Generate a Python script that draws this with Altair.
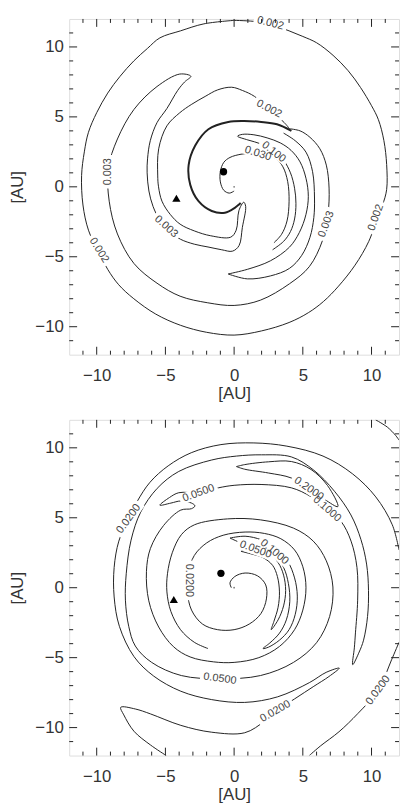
import altair as alt
import pandas as pd

# ---------------- shared axis data ----------------
major_ticks = [-10, -5, 0, 5, 10]
minor_ticks = [-11, -9, -8, -7, -6, -4, -3, -2, -1, 1, 2, 3, 4, 6, 7, 8, 9, 11]
axis_title = "[AU]"

# ---------------- top panel: contour paths (AU) ----------------
top_outer = [(0.0, 11.9), (1.7, 11.8), (3.0, 11.5), (4.0, 11.15), (5.0, 10.75), (6.0, 10.3), (7.2, 9.4),
             (8.3, 8.3), (9.2, 7.1), (10.0, 5.8), (10.5, 4.8), (10.9, 3.3), (11.1, 1.6), (11.1, -0.2),
             (10.8, -1.3), (10.5, -2.0), (9.8, -3.9), (8.8, -5.6), (7.6, -7.1), (6.5, -8.2), (5.4, -9.0),
             (4.0, -9.7), (2.0, -10.3), (0.0, -10.6), (-2.0, -10.4), (-3.9, -9.9), (-5.7, -9.1), (-7.3, -8.0),
             (-8.4, -7.0), (-9.2, -5.9), (-9.9, -4.6), (-10.6, -3.1), (-11.0, -1.3), (-11.1, 0.8),
             (-10.9, 2.5), (-10.6, 3.9), (-10.0, 5.3), (-9.2, 6.7), (-8.3, 7.9), (-7.3, 9.0), (-6.3, 9.9),
             (-5.4, 10.65), (-3.9, 11.15), (-2.2, 11.65), (0.0, 11.9)]
top_arm = [(4.03, 4.15), (4.8, 4.0), (5.52, 3.54), (6.24, 2.72), (6.71, 1.55), (6.91, -0.09), (6.83, -1.97),
           (6.43, -3.84), (5.47, -5.71), (4.03, -6.93), (1.92, -8.1), (0.0, -8.48), (-1.92, -8.29),
           (-3.93, -7.82), (-5.61, -6.89), (-7.29, -5.48), (-8.49, -3.37), (-9.09, -1.03), (-9.16, 1.31),
           (-8.49, 3.42), (-7.29, 5.53), (-5.61, 7.17), (-3.96, 8.06), (-3.15, 7.9), (-3.6, 7.5), (-4.1, 6.9),
           (-4.89, 5.6), (-5.61, 4.59), (-6.1, 3.3), (-6.3, 2.0), (-6.33, 1.0), (-6.2, -0.3), (-5.9, -1.4),
           (-5.4, -2.4), (-4.7, -3.2), (-3.9, -3.75), (-2.9, -4.1), (-1.9, -4.3), (-0.9, -4.5), (-0.12, -4.6),
           (0.36, -4.2), (0.6, -2.9), (0.84, -1.4), (0.7, -1.1), (0.35, -1.7), (0.15, -3.1), (-0.25, -3.6),
           (-1.7, -3.5), (-2.9, -3.15), (-3.93, -2.67), (-4.65, -1.97), (-5.25, -1.03), (-5.5, 0.0),
           (-5.56, 0.84), (-5.49, 2.72), (-4.89, 4.36), (-3.96, 5.29), (-3.12, 5.88), (-2.11, 6.46),
           (-1.2, 6.93), (-0.19, 7.12), (0.6, 6.89), (1.49, 6.46), (2.52, 5.57), (3.65, 4.59), (4.03, 4.15)]
top_thick = [(4.17, 4.0), (3.12, 4.47), (1.97, 4.64), (0.72, 4.71), (-0.43, 4.64), (-1.87, 4.12),
             (-2.83, 2.95), (-3.31, 1.55), (-3.19, 0.14), (-2.59, -1.03), (-1.63, -1.73), (-0.67, -1.85),
             (0.05, -1.5), (0.48, -1.15)]
top_arm_out = [(-0.43, -6.23), (0.96, -6.58), (2.64, -6.37), (4.03, -5.83), (4.92, -4.9), (5.52, -3.61),
               (5.8, -2.2), (5.85, -0.8), (5.71, 1.08), (5.23, 2.48), (4.44, 3.3), (3.6, 3.84)]
top_arm_in = [(-0.43, -6.23), (0.96, -5.9), (2.64, -5.29), (4.03, -4.31), (4.75, -3.26), (5.23, -1.97),
              (5.4, -0.68), (5.23, 0.61), (4.8, 1.78), (4.15, 2.6), (3.36, 3.14), (2.4, 3.5), (1.44, 3.72),
              (0.6, 3.75), (0.25, 3.62), (1.0, 3.35), (2.0, 3.05), (2.9, 2.55), (3.6, 1.9), (4.1, 1.0),
              (4.4, -0.1), (4.5, -1.2), (4.4, -2.3), (4.1, -3.2), (3.6, -3.9), (2.8, -4.5)]
top_030 = [(0.0, -0.3), (-0.35, -0.45), (-0.75, -0.25), (-1.0, 0.35), (-1.0, 1.1), (-0.75, 1.75),
           (-0.3, 2.1), (0.5, 2.33), (1.3, 2.4), (2.2, 2.3), (3.0, 2.06), (3.55, 1.43), (3.9, 0.37),
           (4.0, -1.03), (3.85, -2.44), (3.45, -3.4), (2.9, -4.0)]
top_lines = {"outer": top_outer, "arm": top_arm, "thick": top_thick, "arm_out": top_arm_out,
             "arm_in": top_arm_in, "c030": top_030}
top_thick_names = ["thick"]

top_label_text = ["0.002", "0.002", "0.100", "0.030", "0.003", "0.002", "0.003", "0.003", "0.002"]
top_label_x = [2.64, 2.54, 2.88, 1.73, -9.18, -9.83, -4.95, 6.71, 10.31]
top_label_y = [11.69, 5.57, 2.48, 2.37, 1.08, -4.54, -2.85, -2.67, -2.2]
top_label_angle = [15, 28, 38, 18, 270, 58, 42, 291, 290]
top_circle = (-0.77, 1.08)
top_triangle = (-4.2, -0.82)

# ---------------- bottom panel: contour paths (AU) ----------------
bot_corner = [(10.3, 12.0), (11.15, 11.48), (11.75, 10.89), (12.0, 10.55)]
bot_edge_right = [(5.47, -12.0), (6.3, -11.3), (7.63, -10.3), (9.0, -9.0), (10.48, -7.33), (11.46, -5.15),
                  (12.0, -3.9)]
bot_outer = [(12.0, 2.7), (11.51, 4.5), (10.31, 6.49), (8.63, 8.13), (6.47, 9.41), (3.84, 10.12),
             (1.44, 10.35), (-0.96, 10.23), (-3.12, 9.65), (-4.8, 8.71), (-6.12, 7.54), (-7.07, 6.14),
             (-7.72, 4.85), (-8.39, 3.33), (-8.73, 1.45), (-8.73, -0.66), (-8.35, -2.76), (-7.29, -4.92),
             (-5.85, -6.32), (-3.88, -7.4), (-1.63, -8.0), (0.77, -8.2), (3.17, -7.8), (5.47, -6.79),
             (6.7, -6.05), (7.65, -5.75)]
bot_crescent = [(-4.94, -12.0), (-6.09, -11.24), (-7.29, -10.26), (-8.03, -9.09), (-8.25, -8.55),
                (-7.19, -8.67), (-6.09, -9.02), (-3.88, -9.84), (-1.63, -10.33), (0.77, -10.37),
                (2.2, -9.55), (3.0, -8.85), (4.4, -7.95), (5.8, -7.05), (6.9, -6.35), (7.65, -5.75)]
bot_spiral_a = [(8.63, -5.5), (9.1, -4.6), (9.42, -3.75), (9.71, -2.06), (9.78, -0.19), (9.64, 1.69),
                (9.23, 3.44), (8.5, 5.2), (7.3, 6.9), (5.8, 8.4), (4.17, 9.35), (2.0, 9.5), (0.17, 9.41),
                (-1.63, 9.13), (-4.03, 8.31), (-5.6, 7.1), (-6.8, 5.4), (-7.5, 3.4), (-7.85, 1.0),
                (-7.91, -0.89), (-7.67, -2.76), (-7.19, -4.17), (-6.0, -5.34), (-3.84, -6.28),
                (-1.03, -6.51), (1.92, -6.28), (4.32, -5.34), (6.0, -3.93), (6.95, -2.06), (7.19, 0.05),
                (6.71, 1.92), (5.76, 3.33), (4.32, 4.26), (1.92, 4.85), (-0.48, 4.92), (-2.88, 4.5),
                (-3.84, 3.79), (-4.5, 2.5), (-4.85, 1.0), (-4.89, -0.3), (-4.6, -1.7), (-3.9, -3.0),
                (-2.9, -3.9), (-1.9, -4.35)]
bot_top_crescent = [(0.17, 8.66), (0.77, 8.8), (2.5, 9.0), (4.17, 9.02), (5.6, 8.45), (6.8, 7.3),
                    (7.55, 5.8), (6.6, 6.3), (5.44, 7.07), (4.17, 7.84), (2.5, 8.2), (0.77, 8.47),
                    (0.17, 8.66)]
bot_spiral_b = [(8.63, -5.5), (8.75, -4.3), (8.83, -3.23), (8.99, -0.89), (8.94, 1.45), (8.51, 3.33),
                (7.79, 4.73), (6.76, 5.62), (5.6, 6.5), (4.17, 7.14), (1.96, 7.38), (0.0, 7.32),
                (-1.15, 7.14), (-2.59, 6.8), (-4.03, 6.79), (-4.7, 6.45), (-5.4, 5.9), (-4.6, 6.05),
                (-3.88, 6.2), (-3.1, 6.05), (-2.85, 5.85), (-3.1, 5.65), (-3.88, 5.55), (-5.13, 4.45),
                (-6.09, 2.81), (-6.38, 1.17), (-6.21, -0.94), (-5.49, -2.81), (-4.41, -4.22),
                (-3.2, -4.95), (-1.5, -5.3), (0.0, -5.34), (1.8, -5.0), (3.3, -4.2), (4.4, -3.0),
                (5.0, -1.6), (5.23, 0.0), (5.0, 1.5), (4.4, 2.7), (3.4, 3.5), (2.2, 3.88), (0.8, 3.98),
                (-0.8, 3.75), (-2.0, 3.2), (-2.9, 2.3), (-3.35, 1.0), (-3.4, -0.3), (-3.1, -1.6),
                (-2.3, -2.6), (-1.2, -3.0), (0.0, -3.0), (1.1, -2.6), (1.95, -1.85), (2.35, -0.8),
                (2.3, 0.2), (1.7, 0.85), (0.8, 1.05), (0.05, 0.8), (-0.3, 0.35), (-0.2, 0.0)]
bot_tongue_1 = [(-0.3, 3.55), (0.8, 3.68), (2.0, 3.42), (3.1, 2.85), (3.9, 1.9), (4.4, 0.7), (4.6, -0.6),
                (4.45, -1.9), (4.0, -3.0), (3.3, -3.75), (2.5, -4.25), (2.1, -4.35), (2.6, -3.95),
                (3.3, -3.25), (3.8, -2.3), (4.05, -1.0), (3.95, 0.3), (3.6, 1.45), (2.93, 2.35),
                (1.56, 2.85), (0.5, 3.2), (-0.3, 3.55)]
bot_tongue_2 = [(0.5, 2.6), (1.5, 2.75), (2.5, 2.45), (3.2, 1.8), (3.6, 0.9), (3.75, -0.2), (3.6, -1.3),
                (3.2, -2.3), (2.7, -3.0), (2.9, -2.4), (3.2, -1.4), (3.3, -0.3), (3.15, 0.8), (2.8, 1.6),
                (2.1, 2.15), (1.3, 2.4), (0.5, 2.6)]
bot_lines = {"corner": bot_corner, "edge_right": bot_edge_right,
             "outer": bot_outer + bot_crescent[::-1][1:],
             "spiral": bot_spiral_b[::-1] + bot_spiral_a[1:],
             "top_crescent": bot_top_crescent,
             "tongue_1": bot_tongue_1, "tongue_2": bot_tongue_2}
bot_thick_names = []

bot_label_text = ["0.0200", "0.0500", "0.2000", "0.1000", "0.1000", "0.0500", "0.0200", "0.0500",
                  "0.0200", "0.0200"]
bot_label_x = [-7.67, -2.59, 5.44, 6.76, 2.93, 1.56, -3.3, -1.03, 3.0, 10.48]
bot_label_y = [4.92, 6.75, 7.07, 5.62, 2.55, 2.72, 0.52, -6.51, -8.85, -7.33]
bot_label_angle = [306, 340, 35, 41, 40, 20, 90, 8, 330, 306]
bot_circle = (-0.96, 1.03)
bot_triangle = (-4.39, -0.84)

center = (0.0, 0.0)

# ---------------- chart construction ----------------
W, H = 334, 340
FONT = "Liberation Sans"
INK = "#222222"
BOX = "M-1,-0.27L1,-0.27L1,0.27L-1,0.27Z"

xs = alt.Scale(domain=[-12, 12], nice=False, zero=False)
ys = alt.Scale(domain=[-12, 12], nice=False, zero=False)
common_axis = dict(values=major_ticks, ticks=False, tickSize=0, domain=False, grid=False,
                   labelFont=FONT, labelFontSize=17, labelColor="#333333",
                   titleFont=FONT, titleFontSize=17, titleFontWeight="normal", titleColor="#333333")
x_axis = alt.Axis(title=axis_title, labelPadding=13, titlePadding=2, **common_axis)
y_axis = alt.Axis(title=axis_title, labelPadding=6, titlePadding=8, **common_axis)


def X(field):
    return alt.X(field, scale=xs, axis=x_axis)


def Y(field):
    return alt.Y(field, scale=ys, axis=y_axis)


def line_frame(lines, thick):
    rows = []
    for name, pts in lines.items():
        for i, (x, y) in enumerate(pts):
            rows.append({"c": name, "i": i, "x": x, "y": y, "w": 2.0 if name in thick else 1.0})
    return pd.DataFrame(rows)


def tick_layers():
    layers = []
    for vals, L in ((major_ticks, 8), (minor_ticks, 4)):
        df = pd.DataFrame({"v": vals})
        base = alt.Chart(df).mark_rule(color=INK, strokeWidth=1)
        layers += [
            base.encode(x=X("v:Q"), y=alt.value(H), y2=alt.value(H - L)),
            base.encode(x=X("v:Q"), y=alt.value(0), y2=alt.value(L)),
            base.encode(y=Y("v:Q"), x=alt.value(0), x2=alt.value(L)),
            base.encode(y=Y("v:Q"), x=alt.value(W), x2=alt.value(W - L)),
        ]
    return layers


def panel(lines, thick, ltext, lx, ly, lang, circ, tri):
    df = line_frame(lines, thick)
    contour = alt.Chart(df).mark_line(color=INK, clip=True, strokeJoin="round",
                                      interpolate="catmull-rom").encode(
        x=X("x:Q"), y=Y("y:Q"),
        detail="c:N",
        order="i:Q",
        strokeWidth=alt.StrokeWidth("w:Q", scale=None),
    )
    ldf = pd.DataFrame({"t": ltext, "x": lx, "y": ly, "a": lang,
                        "s": [(len(t) * 6.2 + 3) ** 2 for t in ltext]})
    boxes = alt.Chart(ldf).mark_point(shape=BOX, filled=True, fill="white", opacity=1, strokeWidth=0).encode(
        x=X("x:Q"), y=Y("y:Q"),
        angle=alt.Angle("a:Q", scale=None), size=alt.Size("s:Q", scale=None))
    texts = alt.Chart(ldf).mark_text(font=FONT, fontSize=11, color="#444444", align="center",
                                     baseline="middle").encode(
        x=X("x:Q"), y=Y("y:Q"), text="t:N",
        angle=alt.Angle("a:Q", scale=None))
    mdf = pd.DataFrame({"x": [circ[0], tri[0], center[0]], "y": [circ[1], tri[1], center[1]],
                        "k": ["circle", "triangle-up", "circle"], "s": [55, 70, 3],
                        "col": ["#000000", "#000000", "#777777"]})
    marks = alt.Chart(mdf).mark_point(filled=True, opacity=1, strokeWidth=0).encode(
        x=X("x:Q"), y=Y("y:Q"),
        shape=alt.Shape("k:N", scale=None), size=alt.Size("s:Q", scale=None),
        fill=alt.Fill("col:N", scale=None))
    return alt.layer(contour, boxes, texts, marks, *tick_layers()).properties(width=W, height=H)


top = panel(top_lines, top_thick_names, top_label_text, top_label_x, top_label_y, top_label_angle,
            top_circle, top_triangle)
bottom = panel(bot_lines, bot_thick_names, bot_label_text, bot_label_x, bot_label_y, bot_label_angle,
               bot_circle, bot_triangle)

chart = alt.vconcat(top, bottom, spacing=17).properties(
    padding={"left": 0, "top": 0, "right": 0, "bottom": 0}
).configure_view(stroke=INK, strokeWidth=1).configure(background="white")

chart.save("out.html", embed_options={"renderer": "svg", "actions": False})
